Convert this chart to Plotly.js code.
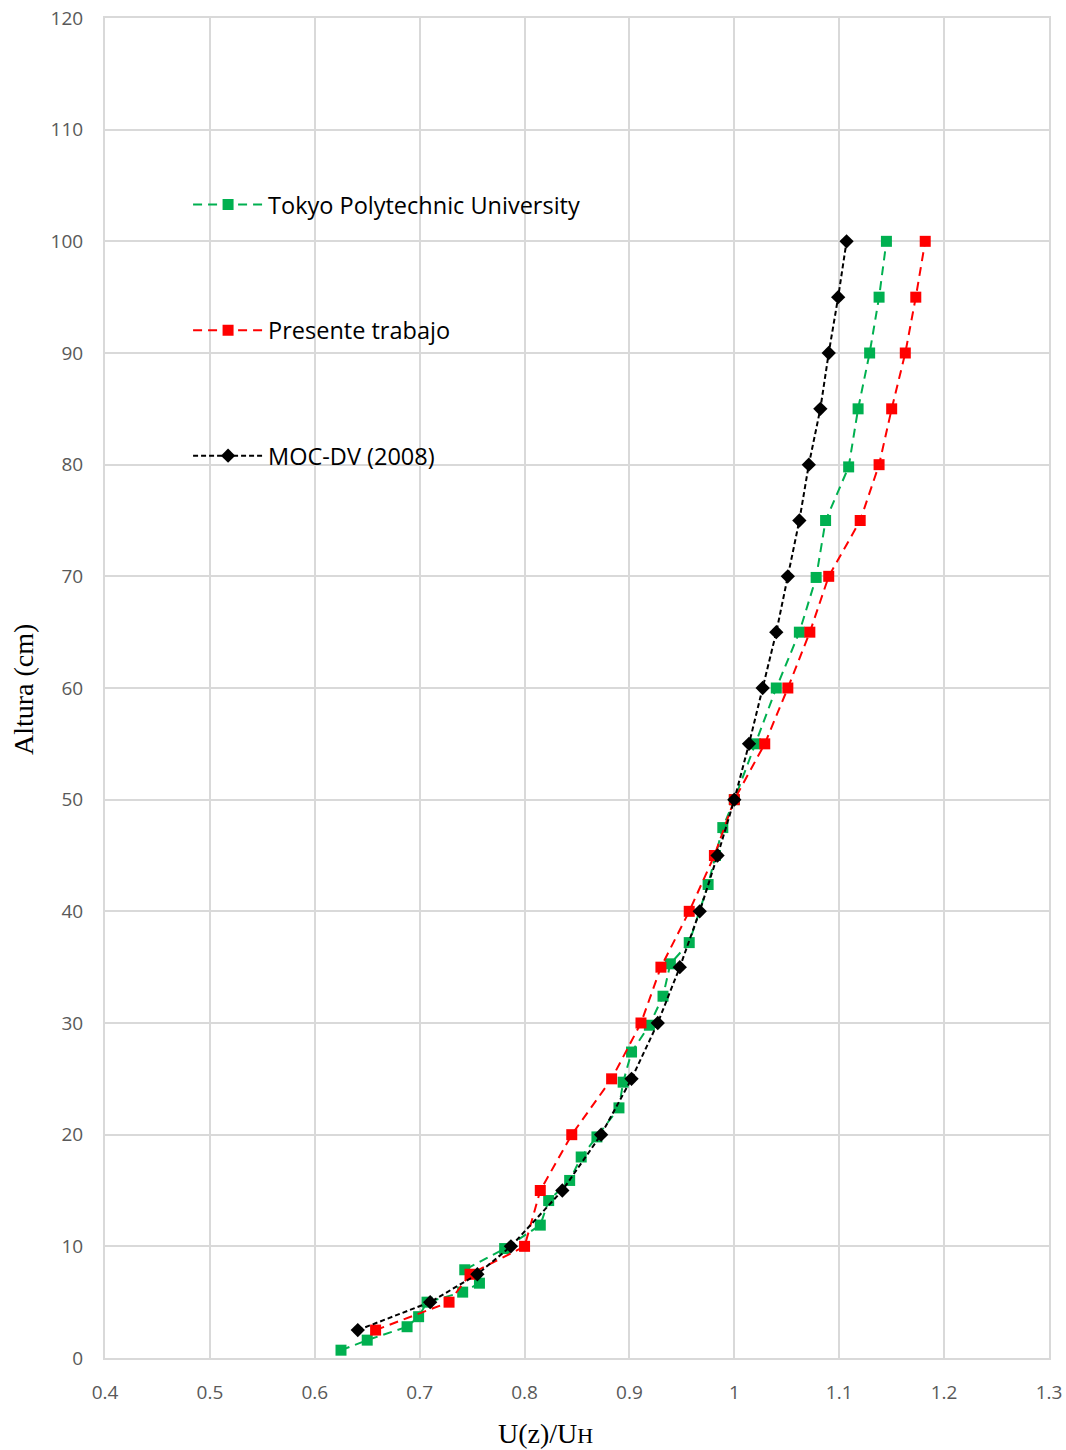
<!DOCTYPE html>
<html>
<head>
<meta charset="utf-8">
<script src="https://cdn.plot.ly/plotly-3.0.1.min.js"></script>
<style>html,body{margin:0;padding:0;background:#fff;}</style>
</head>
<body>
<div id="chart" style="width:1066px;height:1450px;"></div>
<script>
// Tokyo Polytechnic University
const tokyoX = [0.625,0.650,0.688,0.699,0.707,0.741,0.757,0.743,0.781,0.815,0.823,0.843,0.854,0.869,0.890,0.894,0.902,0.919,0.932,0.939,0.957,0.975,0.982,0.989,1.000,1.020,1.040,1.062,1.078,1.087,1.109,1.118,1.129,1.138,1.145];
const tokyoY = [0.7,1.6,2.8,3.7,5.0,5.9,6.7,7.9,9.8,11.9,14.1,15.9,18.0,19.8,22.4,24.7,27.4,29.8,32.4,35.3,37.2,42.4,45,47.5,50,55,60,65,69.9,75,79.8,85,90,95,100];
// Presente trabajo
const presX = [0.658,0.728,0.748,0.800,0.815,0.845,0.883,0.911,0.930,0.957,0.981,1.000,1.029,1.051,1.072,1.090,1.120,1.138,1.150,1.163,1.173,1.182];
const presY = [2.5,5,7.5,10,15,20,25,30,35,40,45,50,55,60,65,70,75,80,85,90,95,100];
// MOC-DV (2008)
const mocX = [0.641,0.710,0.755,0.787,0.836,0.873,0.902,0.927,0.948,0.967,0.984,1.000,1.014,1.027,1.040,1.051,1.062,1.071,1.082,1.090,1.099,1.107];
const mocY = [2.5,5,7.5,10,15,20,25,30,35,40,45,50,55,60,65,70,75,80,85,90,95,100];

const xTicks = [0.4,0.5,0.6,0.7,0.8,0.9,1,1.1,1.2,1.3];
const yTicks = [0,10,20,30,40,50,60,70,80,90,100,110,120];

const traces = [
  {x: tokyoX, y: tokyoY, name: 'Tokyo Polytechnic University', legendgroup: 'a', type: 'scatter', mode: 'lines+markers',
   line: {color: '#00b050', width: 2, dash: '9px,6px'}, marker: {symbol: 'square', size: 11, color: '#00b050'}},
  {x: presX, y: presY, name: 'Presente trabajo', legendgroup: 'b', type: 'scatter', mode: 'lines+markers',
   line: {color: '#ff0000', width: 2, dash: '9px,6px'}, marker: {symbol: 'square', size: 11, color: '#ff0000'}},
  {x: mocX, y: mocY, name: 'MOC-DV (2008)', legendgroup: 'c', type: 'scatter', mode: 'lines+markers',
   line: {color: '#000000', width: 2, dash: '5px,3px'}, marker: {symbol: 'diamond', size: 11, color: '#000000'}}
];

const tickFont = {family: '"Open Sans", "Noto Sans", sans-serif', size: 19, color: '#595959'};
const serif = '"Liberation Serif", "Times New Roman", serif';

const layout = {
  width: 1066, height: 1450,
  margin: {l: 105, r: 17, t: 18, b: 92},
  paper_bgcolor: '#ffffff', plot_bgcolor: '#ffffff',
  showlegend: true,
  legend: {
    x: 0.088, y: 0.877, xanchor: 'left', yanchor: 'top',
    bgcolor: 'rgba(0,0,0,0)', borderwidth: 0,
    font: {family: '"Open Sans", "Noto Sans", sans-serif', size: 23.5, color: '#000000'},
    traceorder: 'grouped', tracegroupgap: 92, itemwidth: 70
  },
  xaxis: {
    range: [0.4, 1.3], tickvals: xTicks, ticktext: xTicks.map(String),
    showgrid: true, gridcolor: '#d9d9d9', gridwidth: 2,
    showline: true, linecolor: '#d9d9d9', linewidth: 2, mirror: true,
    zeroline: false, ticks: '', tickfont: tickFont, ticklabelstandoff: 16
  },
  yaxis: {
    range: [0, 120], tickvals: yTicks, ticktext: yTicks.map(String),
    showgrid: true, gridcolor: '#d9d9d9', gridwidth: 2,
    showline: true, linecolor: '#d9d9d9', linewidth: 2, mirror: true,
    zeroline: false, ticks: '', tickfont: tickFont, ticklabelstandoff: 16
  },
  annotations: [
    {text: 'U(z)/U<span style="font-size:22px">H</span>', xref: 'paper', yref: 'paper',
     x: 0.467, y: -75/1340, xanchor: 'center', yanchor: 'middle', showarrow: false,
     font: {family: serif, size: 28, color: '#000000'}},
    {text: 'Altura (cm)', xref: 'paper', yref: 'paper', textangle: -90,
     x: -82/944, y: (1358-690)/1340, xanchor: 'center', yanchor: 'middle', showarrow: false,
     font: {family: serif, size: 28, color: '#000000'}}
  ]
};

Plotly.newPlot('chart', traces, layout, {displayModeBar: false, staticPlot: true});
</script>
</body>
</html>
